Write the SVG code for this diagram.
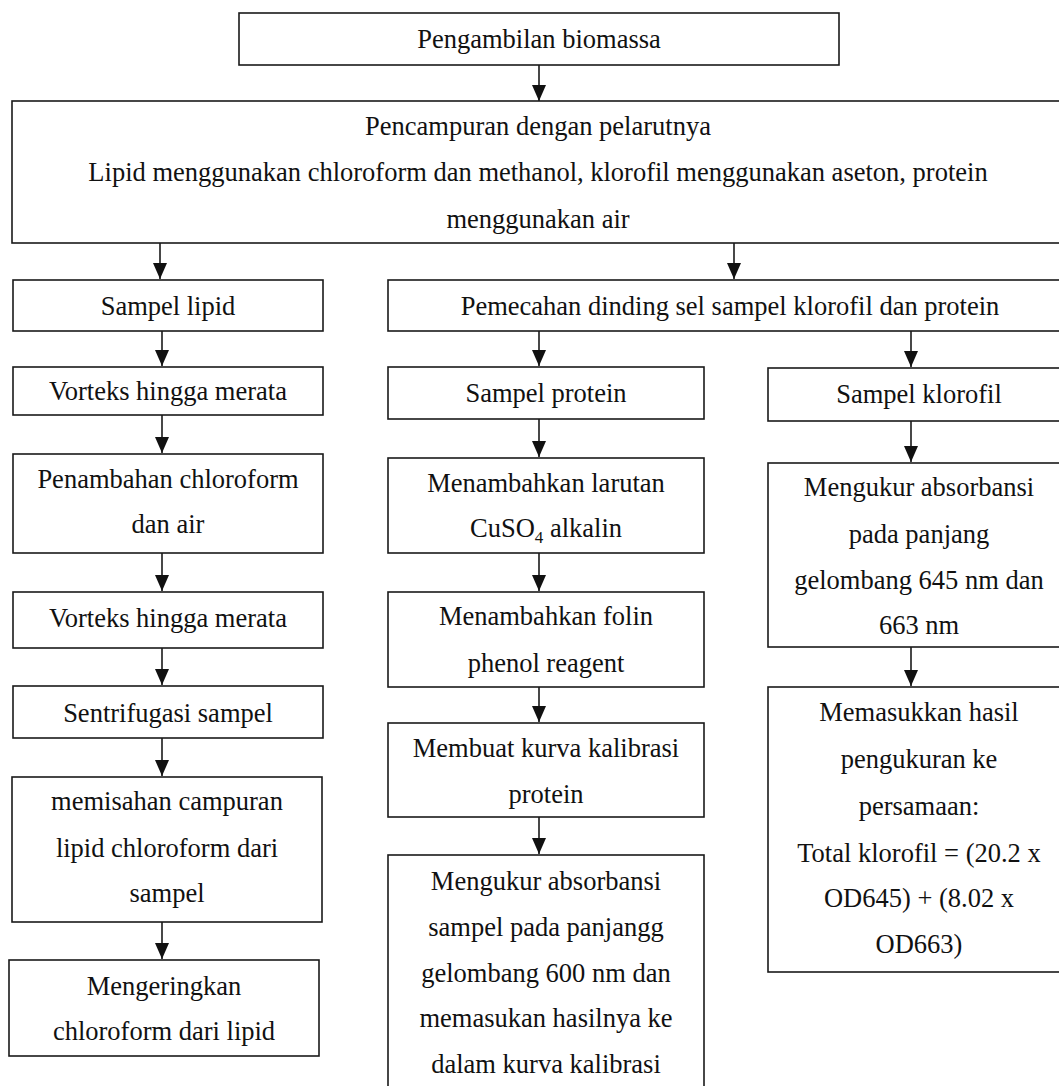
<svg xmlns="http://www.w3.org/2000/svg" width="1059" height="1086" viewBox="0 0 1059 1086">
<defs>
<style>
.box{fill:none;stroke:#1a1a1a;stroke-width:1.6}
.t{font-family:"Liberation Serif","Times New Roman",serif;font-size:26.5px;fill:#111;text-anchor:middle}
.c{stroke:#1a1a1a;stroke-width:1.6;fill:none}
</style>
<marker id="ad" markerUnits="userSpaceOnUse" markerWidth="18" markerHeight="16" refX="17" refY="8" orient="auto" viewBox="0 0 18 16">
<path d="M1,1 L17,8 L1,15 Z" fill="#111"/>
</marker>
</defs>
<rect width="1059" height="1086" fill="#fff"/>

<g id="connectors">
<line class="c" x1="539" y1="65" x2="539" y2="101" marker-end="url(#ad)"/>
<line class="c" x1="160" y1="243" x2="160" y2="279" marker-end="url(#ad)"/>
<line class="c" x1="734" y1="243" x2="734" y2="279" marker-end="url(#ad)"/>
<line class="c" x1="162" y1="331" x2="162" y2="366" marker-end="url(#ad)"/>
<line class="c" x1="539" y1="331" x2="539" y2="366" marker-end="url(#ad)"/>
<line class="c" x1="911" y1="331" x2="911" y2="367" marker-end="url(#ad)"/>
<line class="c" x1="162" y1="415" x2="162" y2="453" marker-end="url(#ad)"/>
<line class="c" x1="539" y1="419" x2="539" y2="457" marker-end="url(#ad)"/>
<line class="c" x1="911" y1="421" x2="911" y2="462" marker-end="url(#ad)"/>
<line class="c" x1="162" y1="553" x2="162" y2="591" marker-end="url(#ad)"/>
<line class="c" x1="539" y1="553" x2="539" y2="591" marker-end="url(#ad)"/>
<line class="c" x1="162" y1="648" x2="162" y2="685" marker-end="url(#ad)"/>
<line class="c" x1="911" y1="647" x2="911" y2="686" marker-end="url(#ad)"/>
<line class="c" x1="539" y1="687" x2="539" y2="722" marker-end="url(#ad)"/>
<line class="c" x1="162" y1="738" x2="162" y2="776" marker-end="url(#ad)"/>
<line class="c" x1="539" y1="817" x2="539" y2="854" marker-end="url(#ad)"/>
<line class="c" x1="162" y1="922" x2="162" y2="959" marker-end="url(#ad)"/>
</g>

<g id="n1"><rect class="box" x="239" y="13" width="600" height="52"/><text class="t" x="539" y="48">Pengambilan biomassa</text></g>
<g id="n2"><rect class="box" x="12" y="101" width="1050" height="142"/>
<text class="t" x="538" y="135">Pencampuran dengan pelarutnya</text>
<text class="t" x="538" y="181">Lipid menggunakan chloroform dan methanol, klorofil menggunakan aseton, protein</text>
<text class="t" x="538" y="228">menggunakan air</text></g>

<g id="n3"><rect class="box" x="13" y="280" width="310" height="51"/><text class="t" x="168" y="315">Sampel lipid</text></g>
<g id="n4"><rect class="box" x="388" y="280" width="672" height="51"/><text class="t" x="730" y="315">Pemecahan dinding sel sampel klorofil dan protein</text></g>

<g id="n5"><rect class="box" x="13" y="367" width="310" height="48"/><text class="t" x="168" y="400">Vorteks hingga merata</text></g>
<g id="n6"><rect class="box" x="388" y="367" width="316" height="52"/><text class="t" x="546" y="402">Sampel protein</text></g>
<g id="n7"><rect class="box" x="768" y="368" width="292" height="53"/><text class="t" x="919" y="403">Sampel klorofil</text></g>

<g id="n8"><rect class="box" x="13" y="454" width="310" height="99"/>
<text class="t" x="168" y="488">Penambahan chloroform</text>
<text class="t" x="168" y="533">dan air</text></g>
<g id="n9"><rect class="box" x="388" y="458" width="316" height="95"/>
<text class="t" x="546" y="492">Menambahkan larutan</text>
<text class="t" x="546" y="537">CuSO<tspan font-size="17" dy="6">4</tspan><tspan dy="-6"> alkalin</tspan></text></g>
<g id="n10"><rect class="box" x="768" y="463" width="292" height="184"/>
<text class="t" x="919" y="496">Mengukur absorbansi</text>
<text class="t" x="919" y="543">pada panjang</text>
<text class="t" x="919" y="589">gelombang 645 nm dan</text>
<text class="t" x="919" y="634">663 nm</text></g>

<g id="n11"><rect class="box" x="13" y="592" width="310" height="56"/><text class="t" x="168" y="627">Vorteks hingga merata</text></g>
<g id="n12"><rect class="box" x="388" y="592" width="316" height="95"/>
<text class="t" x="546" y="625">Menambahkan folin</text>
<text class="t" x="546" y="672">phenol reagent</text></g>

<g id="n13"><rect class="box" x="13" y="686" width="310" height="52"/><text class="t" x="168" y="722">Sentrifugasi sampel</text></g>
<g id="n14"><rect class="box" x="768" y="687" width="292" height="285"/>
<text class="t" x="919" y="721">Memasukkan hasil</text>
<text class="t" x="919" y="768">pengukuran ke</text>
<text class="t" x="919" y="815">persamaan:</text>
<text class="t" x="919" y="862">Total klorofil = (20.2 x</text>
<text class="t" x="919" y="907">OD645) + (8.02 x</text>
<text class="t" x="919" y="953">OD663)</text></g>
<g id="n15"><rect class="box" x="388" y="723" width="316" height="94"/>
<text class="t" x="546" y="757">Membuat kurva kalibrasi</text>
<text class="t" x="546" y="803">protein</text></g>

<g id="n16"><rect class="box" x="12" y="777" width="310" height="145"/>
<text class="t" x="167" y="810">memisahan campuran</text>
<text class="t" x="167" y="857">lipid chloroform dari</text>
<text class="t" x="167" y="902">sampel</text></g>
<g id="n17"><rect class="box" x="388" y="855" width="316" height="250"/>
<text class="t" x="546" y="890">Mengukur absorbansi</text>
<text class="t" x="546" y="936">sampel pada panjangg</text>
<text class="t" x="546" y="982">gelombang 600 nm dan</text>
<text class="t" x="546" y="1027">memasukan hasilnya ke</text>
<text class="t" x="546" y="1073">dalam kurva kalibrasi</text></g>
<g id="n18"><rect class="box" x="9" y="960" width="310" height="96"/>
<text class="t" x="164" y="995">Mengeringkan</text>
<text class="t" x="164" y="1040">chloroform dari lipid</text></g>
</svg>
